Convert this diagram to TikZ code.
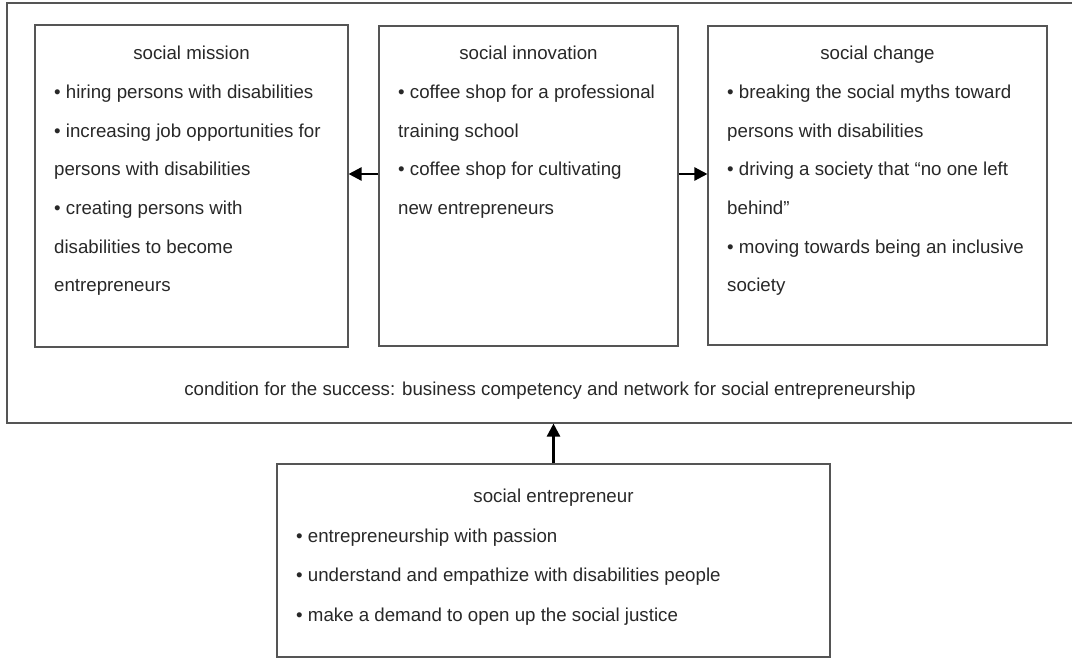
\documentclass[tikz,border=0pt]{standalone}
\usepackage{fontspec}
\setmainfont{Liberation Sans}
\usetikzlibrary{arrows.meta}
\definecolor{linegray}{RGB}{85,85,85}
\definecolor{textgray}{RGB}{40,40,40}
\begin{document}
\begin{tikzpicture}[x=1pt,y=-1pt,
  box/.style={draw=linegray, line width=1.1pt, rectangle, inner sep=0pt},
  txt/.style={anchor=base west, inner sep=0pt, text=textgray, font=\fontsize{18.7}{22}\selectfont},
  ttl/.style={anchor=base, inner sep=0pt, text=textgray, font=\fontsize{18.7}{22}\selectfont},
  arr/.style={-{Triangle[length=13pt,width=13pt]}, line width=2.4pt, black}]
\useasboundingbox (0,0) rectangle (1072,658);
\fill[white] (0,0) rectangle (1072,658);
\clip (0,0) rectangle (1072,658);

% boxes
\node[box, minimum width=1086pt, minimum height=420pt] (outer) at (550,213) {};
\node[box, minimum width=313pt, minimum height=322pt] (mission) at (191.5,186) {};
\node[box, minimum width=299pt, minimum height=320pt] (innov) at (528.5,186) {};
\node[box, minimum width=339pt, minimum height=319pt] (change) at (877.5,185.5) {};
\node[box, minimum width=553pt, minimum height=193pt] (entre) at (553.5,560.5) {};

% social mission
\node[ttl] (m0) at (191.5,60) {social mission};
\node[txt] (m1) at (54,98.6) {• hiring persons with disabilities};
\node[txt] (m2) at (54,137.2) {• increasing job opportunities for};
\node[txt] (m3) at (54,175.8) {persons with disabilities};
\node[txt] (m4) at (54,214.4) {• creating persons with};
\node[txt] (m5) at (54,253) {disabilities to become};
\node[txt] (m6) at (54,291.6) {entrepreneurs};

% social innovation
\node[ttl] (i0) at (528.5,60) {social innovation};
\node[txt] (i1) at (398,98.6) {• coffee shop for a professional};
\node[txt] (i2) at (398,137.2) {training school};
\node[txt] (i3) at (398,175.8) {• coffee shop for cultivating};
\node[txt] (i4) at (398,214.4) {new entrepreneurs};

% social change
\node[ttl] (c0) at (877.5,60) {social change};
\node[txt] (c1) at (727,98.6) {• breaking the social myths toward};
\node[txt] (c2) at (727,137.2) {persons with disabilities};
\node[txt] (c3) at (727,175.8) {• driving a society that “no one left};
\node[txt] (c4) at (727,214.4) {behind”};
\node[txt] (c5) at (727,253) {• moving towards being an inclusive};
\node[txt] (c6) at (727,291.6) {society};

% condition
\node[ttl] (cond) at (550,395) {condition for the success: business competency and network for social entrepreneurship};

% social entrepreneur
\node[ttl] (e0) at (553.5,502.5) {social entrepreneur};
\node[txt] (e1) at (296,542) {• entrepreneurship with passion};
\node[txt] (e2) at (296,581.5) {• understand and empathize with disabilities people};
\node[txt] (e3) at (296,621) {• make a demand to open up the social justice};

% connectors
\coordinate (arow) at (0,174);
\draw[arr] (innov.west |- arow) -- (mission.east |- arow);
\draw[arr] (innov.east |- arow) -- (change.west |- arow);
\draw[arr] (entre.north) -- (entre.north |- outer.south);
\end{tikzpicture}
\end{document}
